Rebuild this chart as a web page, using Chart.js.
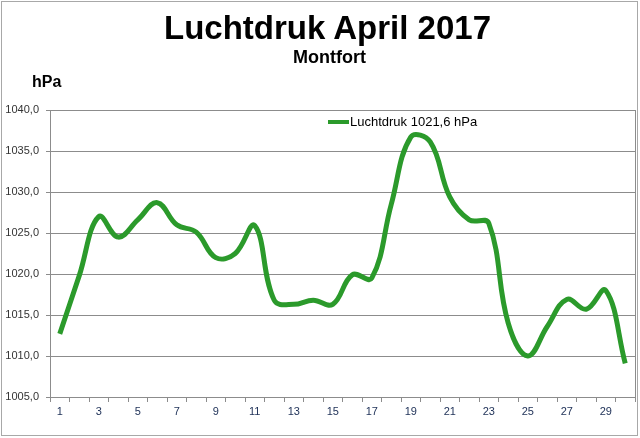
<!DOCTYPE html>
<html lang="nl">
<head>
    <meta charset="UTF-8">
    <title>Luchtdruk April 2017</title>
    <script src="https://cdn.jsdelivr.net/npm/chart.js"></script>
    <style>
        body { margin: 0; background: #fff; font-family: "Liberation Sans", Arial, sans-serif; }
        .kader { position: relative; width: 640px; height: 438px; }
        .rand { position: absolute; left: 1px; top: 1px; width: 635px; height: 433px; border: 1px solid #a8a8a8; pointer-events: none; }
        .titel { position: absolute; left: 0; top: 11px; width: 655px; margin: 0; text-align: center; font-size: 33px; line-height: 33px; font-weight: bold; }
        .sub { position: absolute; left: 0; top: 48px; width: 659px; text-align: center; font-size: 18px; line-height: 18px; font-weight: bold; }
        .eenheid { position: absolute; left: 32px; top: 74px; font-size: 16px; line-height: 16px; font-weight: bold; }
        canvas { position: absolute; left: 0; top: 0; }
    </style>
</head>
<body>
    <div class="kader">
        <canvas id="grafiek" width="640" height="438"></canvas>
        <h1 class="titel">Luchtdruk April 2017</h1>
        <div class="sub">Montfort</div>
        <div class="eenheid">hPa</div>
        <div class="rand"></div>
    </div>

    <script>
        // dagen van april 2017
        const dagen = ['1', '2', '3', '4', '5', '6', '7', '8', '9', '10',
            '11', '12', '13', '14', '15', '16', '17', '18', '19', '20',
            '21', '22', '23', '24', '25', '26', '27', '28', '29', '30'];

        // luchtdruk per dag (hPa)
        const luchtdruk = [1012.7, 1019.8, 1027.0, 1024.5, 1026.6, 1028.7, 1026.0, 1025.1, 1022.0, 1022.5,
            1025.9, 1016.8, 1016.3, 1016.8, 1016.3, 1019.9, 1019.5, 1028.5, 1036.7, 1036.1,
            1029.4, 1026.6, 1026.2, 1014.0, 1010.0, 1013.6, 1016.9, 1015.7, 1018.0, 1009.1];

        const legendaTekst = 'Luchtdruk 1021,6 hPa';
        const yMin = 1005;
        const yMax = 1040;
        const yStap = 5;

        const groen = '#2b9a2b';
        const grijs = '#8c8c8c';

        Chart.defaults.font.family = '"Liberation Sans", Arial, sans-serif';

        // legenda binnen de grafiek + rechterrand van het plotvlak
        const extraTekenen = {
            id: 'extraTekenen',
            afterDraw(chart) {
                const ctx = chart.ctx;
                const area = chart.chartArea;
                ctx.save();
                ctx.strokeStyle = grijs;
                ctx.lineWidth = 1;
                ctx.beginPath();
                ctx.moveTo(area.right + 0.5, area.top);
                ctx.lineTo(area.right + 0.5, area.bottom);
                ctx.stroke();

                const lx = area.left + 278;
                const ly = area.top + 12;
                ctx.strokeStyle = groen;
                ctx.lineWidth = 4;
                ctx.beginPath();
                ctx.moveTo(lx, ly);
                ctx.lineTo(lx + 21, ly);
                ctx.stroke();
                ctx.fillStyle = '#000';
                ctx.font = '13px "Liberation Sans", Arial, sans-serif';
                ctx.textBaseline = 'middle';
                ctx.fillText(chart.data.datasets[0].label, lx + 22, ly);
                ctx.restore();
            }
        };

        const ctx = document.getElementById('grafiek').getContext('2d');
        const grafiek = new Chart(ctx, {
            type: 'line',
            data: {
                labels: dagen,
                datasets: [{
                    label: legendaTekst,
                    data: luchtdruk,
                    borderColor: groen,
                    backgroundColor: groen,
                    borderWidth: 5,
                    pointRadius: 0,
                    tension: 0.4,
                    fill: false
                }]
            },
            options: {
                responsive: false,
                animation: false,
                layout: {
                    padding: { top: 110, right: 5, left: 0, bottom: 0 }
                },
                plugins: {
                    legend: { display: false },
                    tooltip: { enabled: false }
                },
                scales: {
                    x: {
                        offset: true,
                        grid: {
                            offset: true,
                            drawOnChartArea: false,
                            tickLength: 5,
                            color: grijs
                        },
                        border: { color: grijs },
                        ticks: {
                            autoSkip: false,
                            maxRotation: 0,
                            padding: 3,
                            color: '#22345a',
                            font: { size: 11 },
                            callback: function (v, i) {
                                return i % 2 === 0 ? dagen[i] : '';
                            }
                        },
                        afterFit: function (s) { s.height = 41; }
                    },
                    y: {
                        min: yMin,
                        max: yMax,
                        grid: {
                            color: grijs,
                            tickLength: 4
                        },
                        border: { color: grijs },
                        ticks: {
                            stepSize: yStap,
                            padding: 7,
                            color: '#333',
                            font: { size: 11 },
                            callback: function (v) {
                                return v.toFixed(1).replace('.', ',');
                            }
                        },
                        afterFit: function (s) { s.width = 50; }
                    }
                }
            },
            plugins: [extraTekenen]
        });
    </script>
</body>
</html>
